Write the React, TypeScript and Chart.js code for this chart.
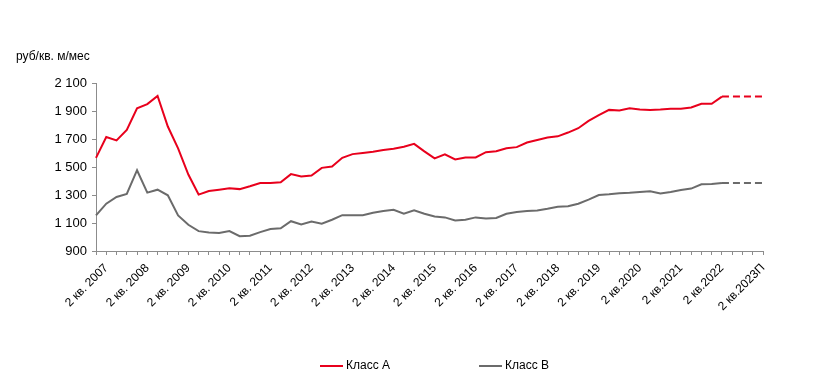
import React, { useEffect, useRef } from "react";
import { Chart, registerables } from "chart.js";

Chart.register(...registerables);

const UNIT_LABEL = "руб/кв. м/мес";

const categories = [
  "1 кв. 2007", "2 кв. 2007", "3 кв. 2007", "4 кв. 2007",
  "1 кв. 2008", "2 кв. 2008", "3 кв. 2008", "4 кв. 2008",
  "1 кв. 2009", "2 кв. 2009", "3 кв. 2009", "4 кв. 2009",
  "1 кв. 2010", "2 кв. 2010", "3 кв. 2010", "4 кв. 2010",
  "1 кв. 2011", "2 кв. 2011", "3 кв. 2011", "4 кв. 2011",
  "1 кв. 2012", "2 кв. 2012", "3 кв. 2012", "4 кв. 2012",
  "1 кв. 2013", "2 кв. 2013", "3 кв. 2013", "4 кв. 2013",
  "1 кв. 2014", "2 кв. 2014", "3 кв. 2014", "4 кв. 2014",
  "1 кв. 2015", "2 кв. 2015", "3 кв. 2015", "4 кв. 2015",
  "1 кв. 2016", "2 кв. 2016", "3 кв. 2016", "4 кв. 2016",
  "1 кв. 2017", "2 кв. 2017", "3 кв. 2017", "4 кв. 2017",
  "1 кв. 2018", "2 кв. 2018", "3 кв. 2018", "4 кв. 2018",
  "1 кв. 2019", "2 кв. 2019", "3 кв. 2019", "4 кв. 2019",
  "1 кв. 2020", "2 кв. 2020", "3 кв. 2020", "4 кв. 2020",
  "1 кв. 2021", "2 кв. 2021", "3 кв. 2021", "4 кв. 2021",
  "1 кв. 2022", "2 кв. 2022", "3 кв. 2022", "4 кв. 2022",
  "1 кв. 2023", "2 кв. 2023П",
];

// Labels shown on the axis (2nd quarter of each year)
const tickLabels: Record<string, string> = {
  "2 кв. 2007": "2 кв. 2007",
  "2 кв. 2008": "2 кв. 2008",
  "2 кв. 2009": "2 кв. 2009",
  "2 кв. 2010": "2 кв. 2010",
  "2 кв. 2011": "2 кв. 2011",
  "2 кв. 2012": "2 кв. 2012",
  "2 кв. 2013": "2 кв. 2013",
  "2 кв. 2014": "2 кв. 2014",
  "2 кв. 2015": "2 кв. 2015",
  "2 кв. 2016": "2 кв. 2016",
  "2 кв. 2017": "2 кв. 2017",
  "2 кв. 2018": "2 кв. 2018",
  "2 кв. 2019": "2 кв. 2019",
  "2 кв. 2020": "2 кв.2020",
  "2 кв. 2021": "2 кв.2021",
  "2 кв. 2022": "2 кв.2022",
  "2 кв. 2023П": "2 кв.2023П",
};

// index of the last actual (non-forecast) quarter: "2 кв. 2022"
const LAST_ACTUAL = 61;

const classA = [
  1565, 1714, 1690, 1765, 1920, 1949, 2007, 1789, 1633, 1446, 1303, 1329,
  1338, 1348, 1342, 1362, 1386, 1386, 1391, 1449, 1432, 1439, 1494, 1504,
  1566, 1592, 1600, 1609, 1621, 1631, 1645, 1665, 1612, 1562, 1590, 1554,
  1568, 1568, 1606, 1612, 1634, 1642, 1675, 1693, 1710, 1719, 1746, 1777,
  1829, 1870, 1908, 1904, 1920, 1911, 1908, 1911, 1916, 1916, 1925, 1952,
  1952, 2003, null, null, null, 2003,
];

const classB = [
  1154, 1238, 1286, 1307, 1477, 1317, 1338, 1298, 1154, 1087, 1042, 1033,
  1028, 1042, 1006, 1009, 1035, 1057, 1062, 1113, 1090, 1111, 1095, 1123,
  1156, 1156, 1156, 1173, 1185, 1195, 1166, 1190, 1166, 1147, 1140, 1118,
  1123, 1140, 1132, 1136, 1166, 1178, 1185, 1190, 1202, 1216, 1219, 1238,
  1267, 1300, 1305, 1312, 1316, 1322, 1326, 1310, 1322, 1336, 1346, 1377,
  1379, 1386, null, null, null, 1386,
];

const seriesNames = ["Класс А", "Класс В"];
const seriesColors = ["#E8001C", "#6B6B6B"];

const FONT = '"Liberation Sans", Arial, sans-serif';
const AXIS_COLOR = "#8C8C8C";

const dashForecast = (ctx: any) =>
  ctx.p0DataIndex >= LAST_ACTUAL ? [7, 4] : undefined;

const unitTitlePlugin = {
  id: "unitTitle",
  afterDraw(chart: any) {
    const ctx = chart.ctx;
    ctx.save();
    ctx.font = `12px ${FONT}`;
    ctx.fillStyle = "#000";
    ctx.textBaseline = "middle";
    ctx.textAlign = "left";
    ctx.fillText(UNIT_LABEL, 16, 57);
    ctx.restore();
  },
};

const bottomLegendPlugin = {
  id: "bottomLegend",
  afterDraw(chart: any) {
    const ctx = chart.ctx;
    const starts = [320, 479];
    const y = 366;
    ctx.save();
    ctx.font = `12px ${FONT}`;
    ctx.textBaseline = "middle";
    ctx.textAlign = "left";
    chart.data.datasets.forEach((ds: any, i: number) => {
      const x = starts[i];
      ctx.strokeStyle = ds.borderColor;
      ctx.lineWidth = 2;
      ctx.beginPath();
      ctx.moveTo(x, y);
      ctx.lineTo(x + 23, y);
      ctx.stroke();
      ctx.fillStyle = "#000";
      ctx.fillText(ds.label, x + 26, y);
    });
    ctx.restore();
  },
};

export default function App() {
  const canvasRef = useRef<HTMLCanvasElement>(null);

  useEffect(() => {
    if (!canvasRef.current) return;
    Chart.defaults.font.family = FONT;
    const chart = new Chart(canvasRef.current, {
      type: "line",
      data: {
        labels: categories,
        datasets: [
          {
            label: seriesNames[0],
            data: classA,
            borderColor: seriesColors[0],
            backgroundColor: seriesColors[0],
            borderWidth: 2,
            pointRadius: 0,
            tension: 0,
            spanGaps: true,
            segment: { borderDash: dashForecast },
          },
          {
            label: seriesNames[1],
            data: classB,
            borderColor: seriesColors[1],
            backgroundColor: seriesColors[1],
            borderWidth: 2,
            pointRadius: 0,
            tension: 0,
            spanGaps: true,
            segment: { borderDash: dashForecast },
          },
        ],
      },
      options: {
        animation: false,
        responsive: false,
        devicePixelRatio: 1,
        layout: { padding: { top: 83, right: 53, bottom: 0, left: 0 } },
        plugins: {
          legend: { display: false },
          tooltip: { enabled: false },
          title: { display: false },
        },
        scales: {
          x: {
            type: "category",
            offset: false,
            grid: {
              display: true,
              drawOnChartArea: false,
              drawTicks: true,
              tickLength: 4,
              color: AXIS_COLOR,
              offset: false,
            },
            border: { display: true, color: AXIS_COLOR, width: 1 },
            ticks: {
              autoSkip: false,
              maxRotation: 45,
              minRotation: 45,
              padding: 6,
              color: "#000",
              font: { size: 12, family: FONT },
              callback: (_v: any, i: number) => tickLabels[categories[i]] ?? "",
            },
            afterFit: (scale: any) => {
              scale.height = 138;
            },
          },
          y: {
            min: 900,
            max: 2100,
            grid: {
              display: true,
              drawOnChartArea: false,
              drawTicks: true,
              tickLength: 4,
              color: AXIS_COLOR,
            },
            border: { display: true, color: AXIS_COLOR, width: 1 },
            ticks: {
              stepSize: 200,
              padding: 5,
              color: "#000",
              font: { size: 13, family: FONT },
              callback: (v: any) => {
                const n = Number(v);
                const s = String(n);
                return n >= 1000 ? s.slice(0, s.length - 3) + " " + s.slice(-3) : s;
              },
            },
            afterFit: (scale: any) => {
              scale.width = 96;
            },
          },
        },
      },
      plugins: [unitTitlePlugin, bottomLegendPlugin],
    });
    return () => chart.destroy();
  }, []);

  return (
    <div style={{ position: "fixed", left: 0, top: 0, width: 816, height: 389, background: "#fff" }}>
      <canvas ref={canvasRef} width={816} height={389} style={{ width: 816, height: 389 }} />
    </div>
  );
}
